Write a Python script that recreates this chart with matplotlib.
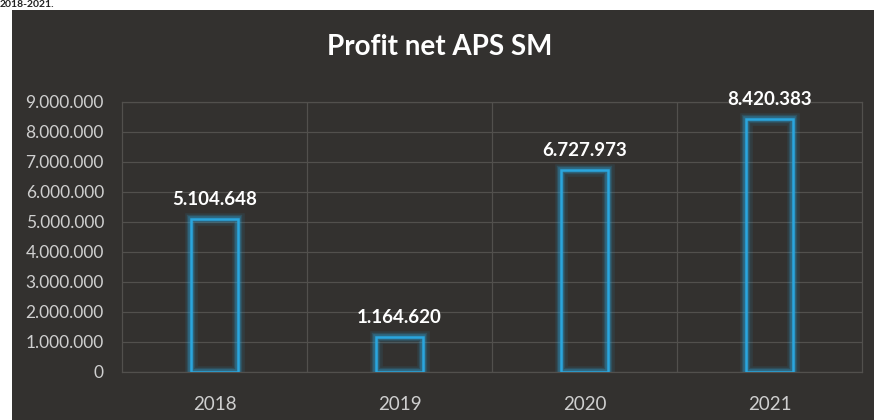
import matplotlib
matplotlib.use("Agg")
import matplotlib.pyplot as plt
from matplotlib.ticker import FuncFormatter, MultipleLocator

years = ["2018", "2019", "2020", "2021"]
profit = [5104648, 1164620, 6727973, 8420383]
title = "Profit net APS SM"

plt.rcParams['font.family'] = ['Lato', 'DejaVu Sans']

BG = "#33312f"
GRID = "#52504d"
CYAN = "#2aa6de"
TXT = "#cfcfcf"

def dotted(v, pos=None):
    return f"{int(round(v)):,}".replace(",", ".")

fig = plt.figure(figsize=(8.74, 4.2), dpi=100)
fig.patch.set_facecolor("white")

bg = fig.add_axes([12/874, 0, 1 - 12/874, 1 - 10/420], zorder=-1)
bg.set_facecolor(BG)
bg.set_xticks([]); bg.set_yticks([])
for s in bg.spines.values():
    s.set_visible(False)

fig.text(0.0, 0.999, "2018-2021.", ha="left", va="top", fontsize=7.5,
         fontweight="bold", color="#222222")

ax = fig.add_axes([122/874, 1 - 372/420, (862-122)/874, (372-102)/420], zorder=1)
ax.set_facecolor("none")
x = list(range(len(years)))

# glow layers
for lw, a in [(9, 0.10), (6, 0.18), (4, 0.30)]:
    ax.bar(x, profit, width=0.25, facecolor="none", edgecolor=CYAN,
           linewidth=lw, alpha=a, zorder=2)
ax.bar(x, profit, width=0.25, facecolor="none", edgecolor=CYAN,
       linewidth=1.8, zorder=3)

for xi, v in zip(x, profit):
    ax.annotate(dotted(v), (xi, v), xytext=(0, 8), textcoords="offset points",
                ha="center", va="bottom", color="white", fontsize=13.5,
                fontweight="bold", zorder=4)

ax.set_xlim(-0.5, len(years) - 0.5)
ax.set_ylim(0, 9000000)
ax.yaxis.set_major_locator(MultipleLocator(1000000))
ax.yaxis.set_major_formatter(FuncFormatter(dotted))
ax.set_xticks(x)
ax.set_xticklabels(years)
ax.set_xticks([0.5, 1.5, 2.5], minor=True)
ax.grid(axis="y", which="major", color=GRID, linewidth=0.9, zorder=1)
ax.grid(axis="x", which="minor", color=GRID, linewidth=0.9, zorder=1)
ax.set_axisbelow(True)
for s in ax.spines.values():
    s.set_color(GRID)
    s.set_linewidth(0.9)
ax.tick_params(axis="both", which="both", length=0, colors=TXT)
ax.tick_params(axis="y", pad=13, labelsize=12.5)
ax.tick_params(axis="x", pad=17, labelsize=13.5)

fig.text(440/874, 1 - 47/420, title, ha="center", va="center", color="white",
         fontsize=20, fontweight="bold")

fig.savefig("out.png", dpi=100)
